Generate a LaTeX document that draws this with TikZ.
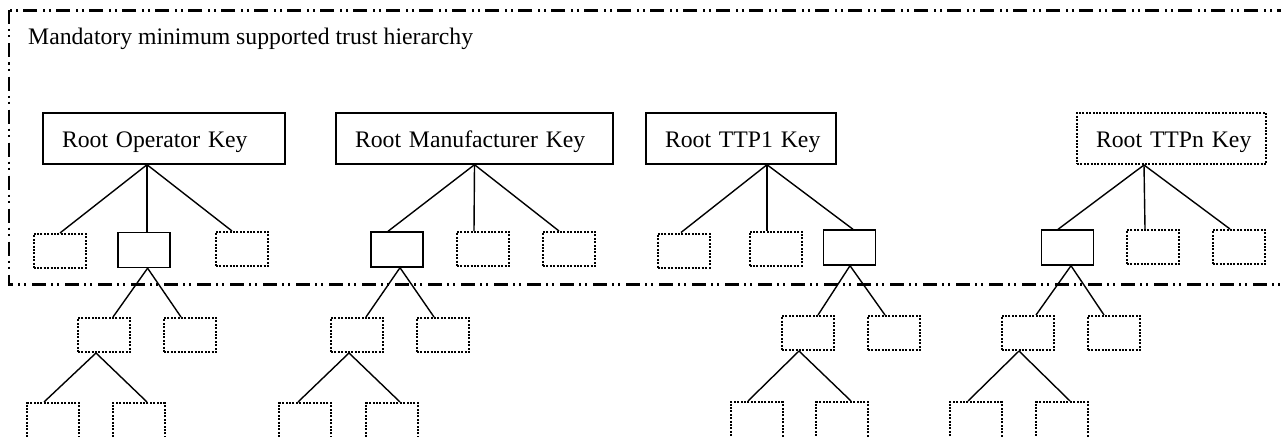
\documentclass[tikz,border=0pt]{standalone}
\usepackage{fontspec}
\setmainfont{Liberation Serif}
\begin{document}
\begin{tikzpicture}[x=1pt,y=-1pt,
  solidbox/.style={draw, line width=1.4pt, minimum width=52pt, minimum height=35pt, inner sep=0pt},
  dotbox/.style={draw, line width=2pt, dash pattern=on 2pt off 1.4pt, minimum width=52pt, minimum height=34pt, inner sep=0pt},
  tallbox/.style={dotbox, minimum height=44pt},
  rootbox/.style={draw, line width=1.4pt, minimum height=51pt, inner xsep=19pt, inner ysep=0pt, align=left,
     text height=17pt, text depth=0pt, font=\fontsize{23.7}{28}\selectfont},
  rootdot/.style={rootbox, line width=2pt, dash pattern=on 2pt off 1.4pt},
  conn/.style={line width=1.4pt},
  dashbox/.style={line width=2.2pt, dash pattern=on 14pt off 5pt on 2pt off 4pt on 2pt off 6pt}
]
\useasboundingbox (0,0) rectangle (1281,436);
\clip (0,0) rectangle (1281,436);
\fill[white] (0,0) rectangle (1281,436);

% mandatory region
\draw[dashbox] (9,10.5) -- (9,284.5) -- (1300,284.5) -- (1300,10.5) -- cycle;
\node[anchor=base west, inner sep=0pt, font=\fontsize{23.7}{28}\selectfont] (title) at (28,45) {Mandatory minimum supported trust hierarchy};

% roots
\node[rootbox, text width=204pt] (rop) at (164,138.5) {\mbox{Root Operator Key}};
\node[rootbox, text width=239pt] (rmk) at (474.5,138.5) {\mbox{Root Manufacturer Key}};
\node[rootbox, text width=152pt] (rt1) at (741,138.5) {\mbox{Root TTP1 Key}};
\node[rootdot, text width=151pt] (rtn) at (1171.5,138.5) {\mbox{Root TTPn Key}};

% level 1
\node[dotbox] (a1) at (59.5,251) {};
\node[solidbox] (a2) at (144,250) {};
\node[dotbox] (a3) at (242,249) {};
\node[solidbox] (b1) at (397,249.5) {};
\node[dotbox] (b2) at (483,249) {};
\node[dotbox] (b3) at (569,249) {};
\node[dotbox] (c1) at (683.5,250.5) {};
\node[dotbox] (c2) at (775.5,248.5) {};
\node[solidbox] (c3) at (849.5,247.5) {};
\node[solidbox] (d1) at (1067.5,247.5) {};
\node[dotbox] (d2) at (1153,247) {};
\node[dotbox] (d3) at (1239,247) {};

% level 2
\node[dotbox] (a21) at (104,335) {};
\node[dotbox] (a22) at (190,335) {};
\node[dotbox] (b21) at (357,335) {};
\node[dotbox] (b22) at (443,335) {};
\node[dotbox] (c21) at (808,333) {};
\node[dotbox] (c22) at (894,333) {};
\node[dotbox] (d21) at (1027.5,333) {};
\node[dotbox] (d22) at (1114,333) {};

% level 3 (cut by the lower edge)
\node[tallbox] (a31) at (53,425) {};
\node[tallbox] (a32) at (138.5,425) {};
\node[tallbox] (b31) at (305,425) {};
\node[tallbox] (b32) at (392,425) {};
\node[tallbox] (c31) at (756.5,424) {};
\node[tallbox] (c32) at (842,424) {};
\node[tallbox] (d31) at (975.5,424) {};
\node[tallbox] (d32) at (1062,424) {};

% connectors tree 1
\draw[conn] ([xshift=-17pt]rop.south) -- ([xshift=0.5pt]a1.north);
\draw[conn] ([xshift=-17pt]rop.south) -- ([xshift=3pt]a2.north);
\draw[conn] ([xshift=-17pt]rop.south) -- ([xshift=-10pt]a3.north);
\draw[conn] ([xshift=3.6pt]a2.south) -- ([xshift=9pt]a21.north);
\draw[conn] ([xshift=3.6pt]a2.south) -- ([xshift=-9pt]a22.north);
\draw[conn] ([xshift=-8pt]a21.south) -- ([xshift=-9pt]a31.north);
\draw[conn] ([xshift=-8pt]a21.south) -- ([xshift=8.5pt]a32.north);

% connectors tree 2
\draw[conn] (rmk.south) -- ([xshift=-9pt]b1.north);
\draw[conn] (rmk.south) -- ([xshift=-9pt]b2.north);
\draw[conn] (rmk.south) -- ([xshift=-10pt]b3.north);
\draw[conn] ([xshift=3pt]b1.south) -- ([xshift=9pt]b21.north);
\draw[conn] ([xshift=3pt]b1.south) -- ([xshift=-9pt]b22.north);
\draw[conn] ([xshift=-8pt]b21.south) -- ([xshift=-7pt]b31.north);
\draw[conn] ([xshift=-8pt]b21.south) -- ([xshift=8pt]b32.north);

% connectors tree 3
\draw[conn] ([xshift=26pt]rt1.south) -- ([xshift=-2.5pt]c1.north);
\draw[conn] ([xshift=26pt]rt1.south) -- ([xshift=-8.5pt]c2.north);
\draw[conn] ([xshift=26pt]rt1.south) -- ([xshift=3.5pt]c3.north);
\draw[conn] ([xshift=0.5pt]c3.south) -- ([xshift=10pt]c21.north);
\draw[conn] ([xshift=0.5pt]c3.south) -- ([xshift=-9pt]c22.north);
\draw[conn] ([xshift=-9pt]c21.south) -- ([xshift=-8.5pt]c31.north);
\draw[conn] ([xshift=-9pt]c21.south) -- ([xshift=9pt]c32.north);

% connectors tree 4
\draw[conn] ([xshift=-27.5pt]rtn.south) -- ([xshift=-9.5pt]d1.north);
\draw[conn] ([xshift=-27.5pt]rtn.south) -- ([xshift=-8pt]d2.north);
\draw[conn] ([xshift=-27.5pt]rtn.south) -- ([xshift=-9pt]d3.north);
\draw[conn] ([xshift=3.5pt]d1.south) -- ([xshift=8.5pt]d21.north);
\draw[conn] ([xshift=3.5pt]d1.south) -- ([xshift=-10pt]d22.north);
\draw[conn] ([xshift=-8.5pt]d21.south) -- ([xshift=-7.5pt]d31.north);
\draw[conn] ([xshift=-8.5pt]d21.south) -- ([xshift=8pt]d32.north);
\end{tikzpicture}
\end{document}
